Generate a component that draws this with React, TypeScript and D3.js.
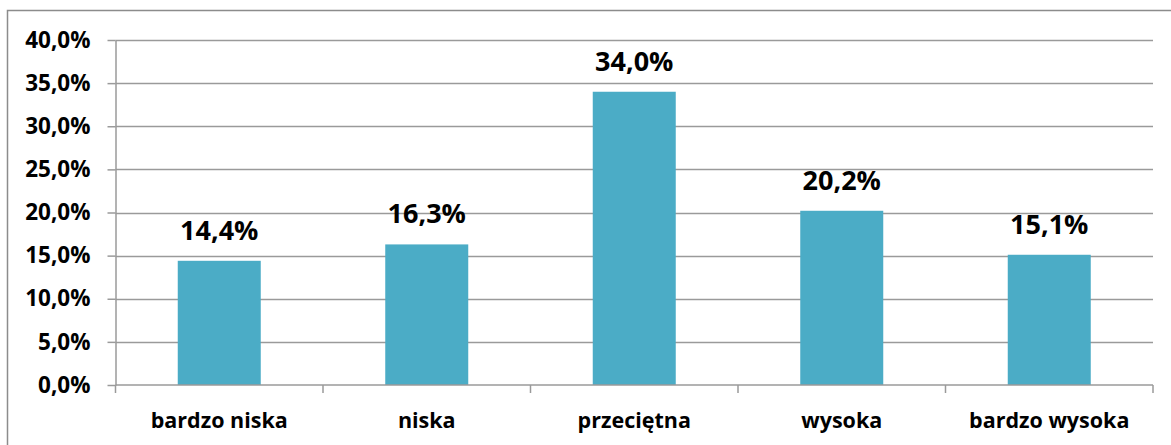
import React, { useRef, useEffect } from 'react';
import * as d3 from 'd3';

const width = 1171;
const height = 445;

const categories = ['bardzo niska', 'niska', 'przeciętna', 'wysoka', 'bardzo wysoka'];
const values = [14.4, 16.3, 34.0, 20.2, 15.1];
const yTicks = [0, 5, 10, 15, 20, 25, 30, 35, 40];

const margin = { left: 115.5, right: 18, top: 40, bottom: 60 };
const fontFamily = '"Open Sans", Calibri, sans-serif';
const fmt = (v: number) => v.toFixed(1).replace('.', ',') + '%';

export default function App() {
    const ref = useRef<SVGSVGElement>(null);

    useEffect(() => {
        if (!ref.current) return;
        const svg = d3.select(ref.current);
        svg.selectAll('*').remove();

        const plotW = width - margin.left - margin.right;
        const plotH = 385 - margin.top;

        const x = d3.scaleBand<string>()
            .domain(categories)
            .range([0, plotW])
            .paddingInner(0.6)
            .paddingOuter(0.3);

        const y = d3.scaleLinear().domain([0, 40]).range([plotH, 0]);

        // outer frame
        svg.append('rect')
            .attr('x', 7.5).attr('y', 10.5)
            .attr('width', width + 20).attr('height', height)
            .style('fill', 'white')
            .style('stroke', '#8c8c8c')
            .style('stroke-width', 1.5);

        const g = svg.append('g')
            .attr('transform', `translate(${margin.left}, ${margin.top})`);

        // gridlines
        g.append('g')
            .selectAll('line')
            .data(yTicks.filter(d => d > 0))
            .enter()
            .append('line')
            .attr('x1', 0).attr('x2', plotW)
            .attr('y1', d => Math.round(y(d)) + 0.5)
            .attr('y2', d => Math.round(y(d)) + 0.5)
            .style('stroke', '#9a9a9a')
            .style('stroke-width', 1.5);

        // bars
        g.append('g')
            .selectAll('rect')
            .data(values)
            .enter()
            .append('rect')
            .attr('x', (d, i) => x(categories[i])!)
            .attr('width', x.bandwidth())
            .attr('y', d => y(d))
            .attr('height', d => plotH - y(d))
            .style('fill', '#4bacc6');

        // value labels
        g.append('g')
            .selectAll('text')
            .data(values)
            .enter()
            .append('text')
            .attr('x', (d, i) => x(categories[i])! + x.bandwidth() / 2)
            .attr('y', d => y(d) - 21)
            .attr('text-anchor', 'middle')
            .style('font-family', fontFamily)
            .style('font-weight', 'bold')
            .style('font-size', '27px')
            .style('fill', '#000')
            .text(d => fmt(d));

        // y axis
        const yAxis = g.append('g')
            .call(d3.axisLeft(y).tickValues(yTicks).tickSize(8).tickSizeOuter(0).tickFormat(d => fmt(+d)).tickPadding(17));
        yAxis.select('.domain').style('stroke', '#9a9a9a').style('stroke-width', 1.5);
        yAxis.selectAll('.tick line').style('stroke', '#9a9a9a').style('stroke-width', 1.5);
        yAxis.selectAll('.tick text')
            .style('font-family', fontFamily)
            .style('font-weight', 'bold')
            .style('font-size', '22.5px')
            .style('fill', '#000');

        // x axis
        const boundaries = d3.range(categories.length + 1).map(i => i * plotW / categories.length);
        g.append('line')
            .attr('x1', 0).attr('x2', plotW)
            .attr('y1', plotH).attr('y2', plotH)
            .style('stroke', '#9a9a9a')
            .style('stroke-width', 1.5);
        g.append('g')
            .selectAll('line')
            .data(boundaries)
            .enter()
            .append('line')
            .attr('x1', d => d).attr('x2', d => d)
            .attr('y1', plotH).attr('y2', plotH + 8)
            .style('stroke', '#9a9a9a')
            .style('stroke-width', 1.5);
        g.append('g')
            .selectAll('text')
            .data(categories)
            .enter()
            .append('text')
            .attr('x', d => x(d)! + x.bandwidth() / 2)
            .attr('y', plotH + 43)
            .attr('text-anchor', 'middle')
            .style('font-family', fontFamily)
            .style('font-weight', 'bold')
            .style('font-size', '21.5px')
            .style('fill', '#000')
            .text(d => d);
    }, []);

    return (
        <svg
            ref={ref}
            width={width}
            height={height}
            style={{ position: 'absolute', left: 0, top: 0, display: 'block' }}
        />
    );
}
